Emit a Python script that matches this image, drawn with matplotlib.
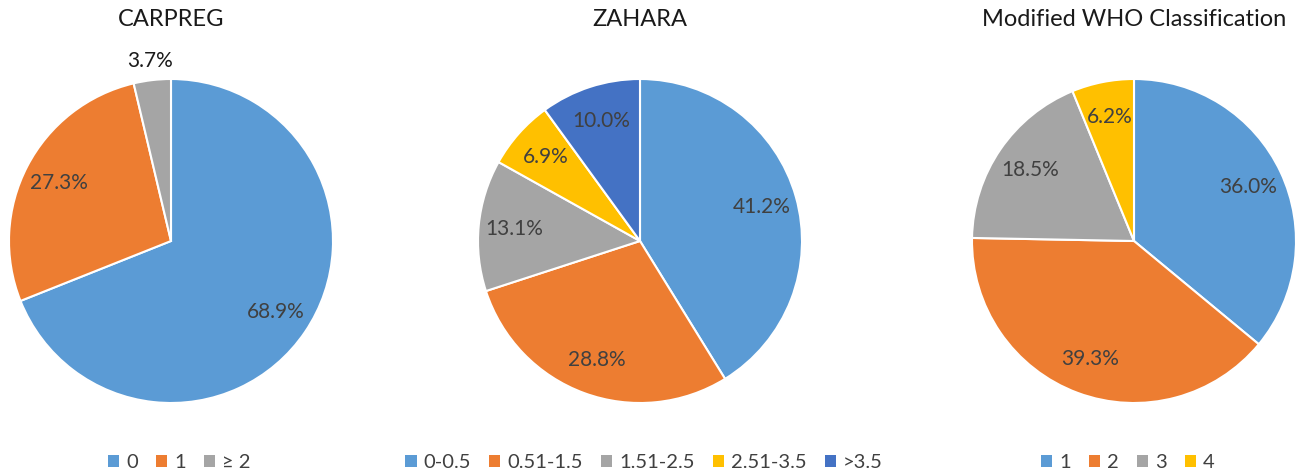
import numpy as np
import matplotlib.pyplot as plt
from matplotlib.patches import Patch

plt.rcParams['font.family'] = ['Lato', 'DejaVu Sans']

# data
carpreg_labels = ['0', '1', '≥ 2']
carpreg_vals = [68.9, 27.3, 3.7]
zahara_labels = ['0-0.5', '0.51-1.5', '1.51-2.5', '2.51-3.5', '>3.5']
zahara_vals = [41.2, 28.8, 13.1, 6.9, 10.0]
who_labels = ['1', '2', '3', '4']
who_vals = [36.0, 39.3, 18.5, 6.2]

colors = ['#5B9BD5', '#ED7D31', '#A5A5A5', '#FFC000', '#4472C4']
txt_col = '#404040'

W, H = 1299, 476
fig = plt.figure(figsize=(W / 100, H / 100), dpi=100)

R = 162  # pie radius in px
box = 340


def draw(cx, cy, vals, labels, title, legx, outside=()):
    ax = fig.add_axes([(cx - box / 2) / W, (H - cy - box / 2) / H, box / W, box / H])
    lim = box / 2 / R
    wedges, _ = ax.pie(vals, colors=colors[:len(vals)], startangle=90, counterclock=False,
                       wedgeprops=dict(edgecolor='white', linewidth=1.5), normalize=True)
    ax.set_xlim(-lim, lim)
    ax.set_ylim(-lim, lim)
    ax.set_aspect('equal')
    ax.axis('off')
    for i, w in enumerate(wedges):
        ang = np.deg2rad((w.theta1 + w.theta2) / 2)
        d = 1.12 if i in outside else 0.78
        ax.text(d * np.cos(ang), d * np.sin(ang), f'{vals[i]:.1f}%',
                ha='center', va='center', fontsize=15,
                color='#1a1a1a' if i in outside else txt_col, clip_on=False)
    fig.text(cx / W, 1 - 20 / H, title, ha='center', va='center', fontsize=17, color='#1a1a1a')
    handles = [Patch(facecolor=colors[i], edgecolor='none') for i in range(len(vals))]
    fig.legend(handles, labels, loc='center', bbox_to_anchor=(legx / W, 1 - 463 / H),
               ncol=len(vals), frameon=False, fontsize=14.5, handlelength=0.55, handleheight=0.55,
               handletextpad=0.35, columnspacing=0.9, labelcolor=txt_col)


draw(171, 241, carpreg_vals, carpreg_labels, 'CARPREG', 179, outside=(2,))
draw(640, 241, zahara_vals, zahara_labels, 'ZAHARA', 644)
draw(1134, 241, who_vals, who_labels, 'Modified WHO Classification', 1128)

fig.savefig('out.png', dpi=100)
